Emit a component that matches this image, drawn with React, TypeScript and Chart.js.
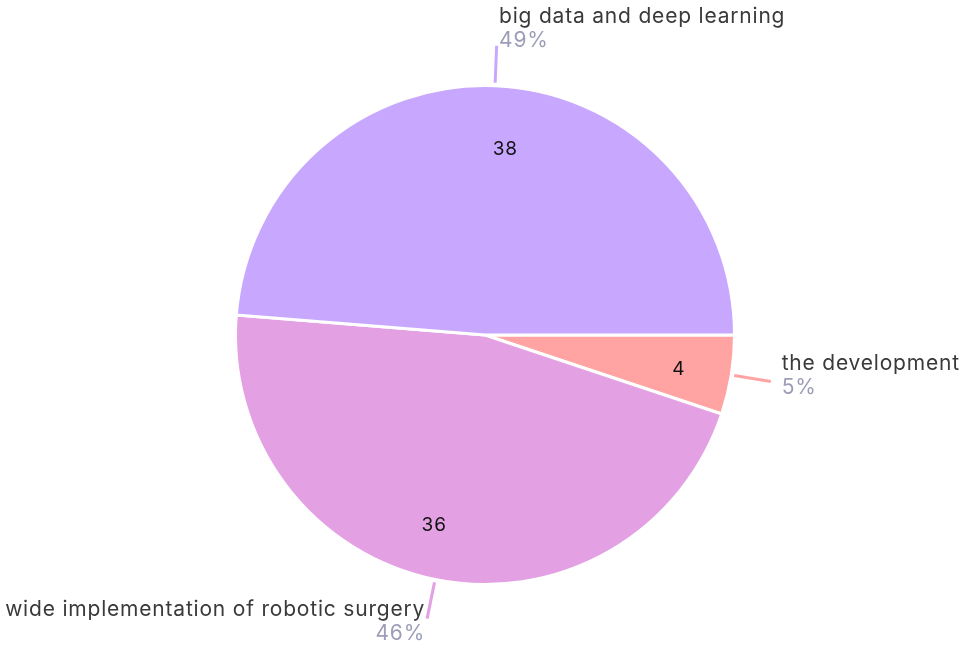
import React, { useEffect, useRef } from "react";
import { Chart, registerables } from "chart.js";

Chart.register(...registerables);

const categories = ["the development", "wide implementation of robotic surgery", "big data and deep learning"];
const values = [4, 36, 38];
const percentLabels = ["5%", "46%", "49%"];
const colors = ["#FFA3A3", "#E3A0E3", "#C8A8FF"];

const FONT = "Inter, 'Noto Sans', sans-serif";

const labelPlugin = {
  id: "pieLabels",
  afterDatasetsDraw(chart: any) {
    const ctx = chart.ctx;
    const meta = chart.getDatasetMeta(0);
    meta.data.forEach((arc: any, i: number) => {
      const { x, y, startAngle, endAngle, outerRadius } = arc.getProps(["x", "y", "startAngle", "endAngle", "outerRadius"], true);
      const mid = (startAngle + endAngle) / 2;
      const c = Math.cos(mid);
      const s = Math.sin(mid);
      // value inside
      ctx.save();
      ctx.font = `19px ${FONT}`;
      (ctx as any).letterSpacing = "1px";
      ctx.fillStyle = "#111";
      ctx.textAlign = c >= 0 ? "left" : "right";
      ctx.textBaseline = "middle";
      const ir = outerRadius * 0.76;
      ctx.fillText(String(values[i]), x + c * ir, y + s * ir + 4);
      // leader line
      const r1 = outerRadius + 3;
      const r2 = outerRadius + 40;
      const ex = x + c * r2;
      const ey = y + s * r2;
      ctx.strokeStyle = colors[i];
      ctx.lineWidth = 3;
      ctx.beginPath();
      ctx.moveTo(x + c * r1, y + s * r1);
      ctx.lineTo(ex, ey);
      ctx.stroke();
      // labels
      const boxC = ey + s * 10 - 7;
      let tx: number;
      if (c >= 0) {
        ctx.textAlign = "left";
        tx = ex + 2 + 9 * Math.abs(c);
      } else {
        ctx.textAlign = "right";
        tx = ex - 2;
      }
      ctx.textBaseline = "middle";
      ctx.font = `21px ${FONT}`;
      (ctx as any).letterSpacing = "0.8px";
      ctx.fillStyle = "#3a3a3a";
      ctx.fillText(categories[i], tx, boxC - 12);
      ctx.fillStyle = "#9d9db8";
      ctx.fillText(percentLabels[i], tx, boxC + 12);
      ctx.restore();
    });
  },
};

export default function App() {
  const ref = useRef<HTMLCanvasElement>(null);
  useEffect(() => {
    const chart = new Chart(ref.current!, {
      type: "pie",
      data: {
        labels: categories,
        datasets: [
          {
            data: values,
            backgroundColor: colors,
            borderColor: "#ffffff",
            borderWidth: 3,
          },
        ],
      },
      options: {
        animation: false,
        responsive: false,
        rotation: 90,
        layout: { padding: { top: 84, bottom: 62, left: 2, right: 0 } },
        plugins: {
          legend: { display: false },
          tooltip: { enabled: false },
        },
      },
      plugins: [labelPlugin],
    });
    return () => chart.destroy();
  }, []);
  return (
    <div style={{ position: "fixed", left: 0, top: 0, width: 968, height: 648, background: "#fff" }}>
      <canvas ref={ref} width={968} height={648} style={{ width: 968, height: 648 }} />
    </div>
  );
}
